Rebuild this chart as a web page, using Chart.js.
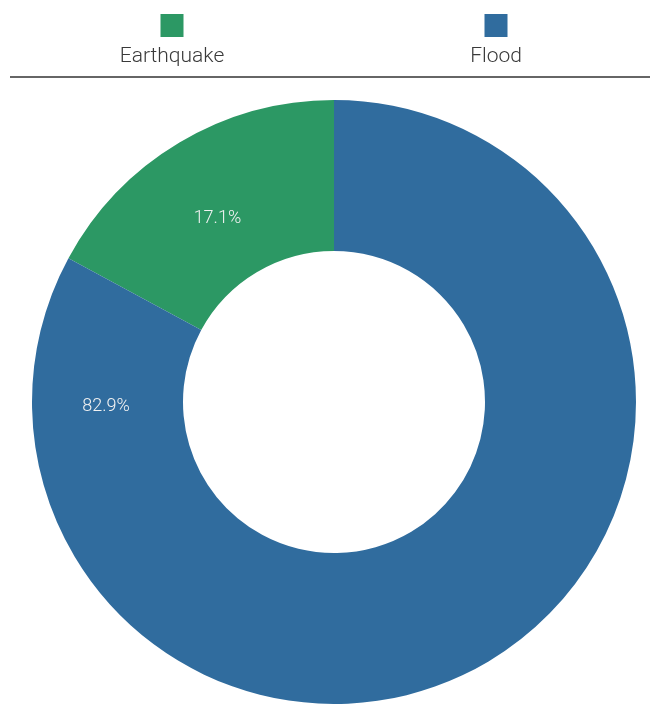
<!DOCTYPE html>
<html>
<head>
<meta charset="utf-8">
<script src="https://cdn.jsdelivr.net/npm/chart.js@4.4.0/dist/chart.umd.min.js"></script>
<style>
  html, body { margin: 0; padding: 0; background: #fff; }
  #wrap { width: 650px; height: 704px; position: relative; }
</style>
</head>
<body>
<div id="wrap"><canvas id="donutChart"></canvas></div>
<script>
const categories = ['Earthquake', 'Flood'];
const shares = [17.1, 82.9];
const sliceColors = ['#2c9864', '#306c9e'];

// legend row + rule across the top, drawn into the same canvas
const topLegend = {
  id: 'topLegend',
  afterDraw(chart) {
    const ctx = chart.ctx;
    const centres = [172, 496];
    ctx.save();
    categories.forEach((name, i) => {
      ctx.fillStyle = sliceColors[i];
      ctx.fillRect(centres[i] - 11.5, 14, 23, 23);
      ctx.fillStyle = '#3a3a3a';
      ctx.font = '300 21px Roboto';
      ctx.textAlign = 'center';
      ctx.textBaseline = 'alphabetic';
      ctx.fillText(name, centres[i], 62);
    });
    ctx.strokeStyle = '#666';
    ctx.lineWidth = 2;
    ctx.beginPath();
    ctx.moveTo(10, 77);
    ctx.lineTo(650, 77);
    ctx.stroke();
    ctx.restore();
  }
};

// percentage labels inside the ring
const sliceLabels = {
  id: 'sliceLabels',
  afterDatasetsDraw(chart, args, opts) {
    const ctx = chart.ctx;
    const arcs = chart.getDatasetMeta(0).data;
    ctx.save();
    ctx.fillStyle = '#f2f2f2';
    ctx.font = '300 18px Roboto';
    ctx.textAlign = 'center';
    ctx.textBaseline = 'middle';
    arcs.forEach((arc, i) => {
      const p = arc.getProps(['x', 'y'], true);
      const r = opts.radii[i];
      const a = (opts.angles[i] - 90) * Math.PI / 180;
      ctx.fillText(shares[i].toFixed(1) + '%', p.x + r * Math.cos(a), p.y + 3 + r * Math.sin(a));
    });
    ctx.restore();
  }
};

new Chart(document.getElementById('donutChart'), {
  type: 'doughnut',
  data: {
    labels: categories,
    datasets: [{
      data: shares,
      backgroundColor: sliceColors,
      borderWidth: 0
    }]
  },
  options: {
    responsive: true,
    maintainAspectRatio: false,
    animation: false,
    cutout: '50%',
    rotation: -shares[0] * 3.6,
    layout: { padding: { top: 100, left: 32, right: 14, bottom: 0 } },
    plugins: {
      legend: { display: false },
      tooltip: { enabled: false },
      sliceLabels: { angles: [-32, 269.6], radii: [220, 228] }
    }
  },
  plugins: [topLegend, sliceLabels]
});
</script>
</body>
</html>
